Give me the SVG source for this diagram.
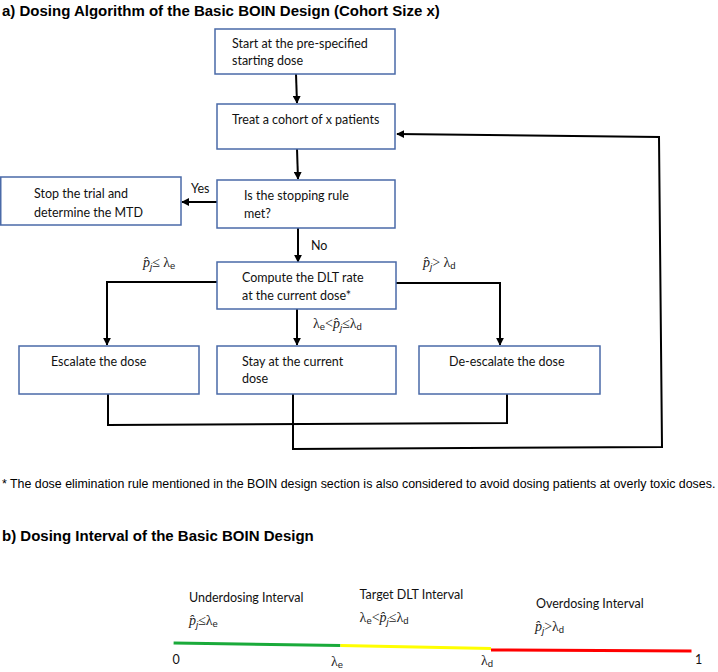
<svg xmlns="http://www.w3.org/2000/svg" width="718" height="672" viewBox="0 0 718 672">
<style>
  .title { font-family: "Liberation Sans", Arial, sans-serif; font-weight: bold; font-size: 15px; fill: #000; }
  .note { font-family: "Liberation Sans", Arial, sans-serif; font-size: 12.4px; fill: #000; }
  .box { fill: #fff; stroke: #4a6aa8; stroke-width: 1.5; }
  .t { font-family: Lato, "Liberation Sans", sans-serif; font-size: 12.5px; fill: #111; }
  .m { font-family: "Liberation Serif", "DejaVu Serif", serif; font-size: 14px; fill: #222; }
  .mi { font-style: italic; }
  .sub { font-family: "Liberation Sans", sans-serif; font-size: 9.5px; }
  .conn { fill: none; stroke: #000; stroke-width: 2; }
</style>
<defs>
  <marker id="arr" viewBox="0 0 10 10" refX="9" refY="5" markerWidth="4" markerHeight="4" orient="auto" markerUnits="strokeWidth">
    <path d="M0,0 L10,5 L0,10 z" fill="#000"/>
  </marker>
</defs>

<text class="title" x="2" y="16">a) Dosing Algorithm of the Basic BOIN Design (Cohort Size x)</text>

<g id="connectors">
  <path class="conn" d="M296,74 L297,103" marker-end="url(#arr)"/>
  <path class="conn" d="M297,149 L298,179" marker-end="url(#arr)"/>
  <path class="conn" d="M217,202 L182,202" marker-end="url(#arr)"/>
  <path class="conn" d="M298,228 L298,262" marker-end="url(#arr)"/>
  <path class="conn" d="M217,282 L107,282 L107,345" marker-end="url(#arr)"/>
  <path class="conn" d="M297,309 L297,345" marker-end="url(#arr)"/>
  <path class="conn" d="M396,283 L500,283 L500,345" marker-end="url(#arr)"/>
  <path class="conn" d="M108,394 L108,425 L507,423 L507,394"/>
  <path class="conn" d="M293,394 L293,449 L662,447 L659,137 L397,134" marker-end="url(#arr)"/>
</g>

<g id="start">
  <rect class="box" x="215" y="29" width="180" height="45"/>
  <text class="t" x="232" y="48">Start at the pre-specified</text>
  <text class="t" x="232" y="65">starting dose</text>
</g>
<g id="treat">
  <rect class="box" x="217" y="104" width="178" height="45"/>
  <text class="t" x="232" y="124">Treat a cohort of x patients</text>
</g>
<g id="stopping">
  <rect class="box" x="217" y="180" width="178" height="48"/>
  <text class="t" x="244" y="200">Is the stopping rule</text>
  <text class="t" x="244" y="218">met?</text>
</g>
<g id="stop">
  <rect class="box" x="0.75" y="177" width="180.25" height="48"/>
  <text class="t" x="34" y="198">Stop the trial and</text>
  <text class="t" x="34" y="217">determine the MTD</text>
</g>
<g id="compute">
  <rect class="box" x="217" y="262" width="179" height="47"/>
  <text class="t" x="242" y="282">Compute the DLT rate</text>
  <text class="t" x="242" y="300">at the current dose*</text>
</g>
<g id="escalate">
  <rect class="box" x="19" y="346" width="180" height="48"/>
  <text class="t" x="51" y="366">Escalate the dose</text>
</g>
<g id="stay">
  <rect class="box" x="217" y="346" width="179" height="48"/>
  <text class="t" x="242" y="366">Stay at the current</text>
  <text class="t" x="242" y="383">dose</text>
</g>
<g id="deescalate">
  <rect class="box" x="419" y="346" width="181" height="48"/>
  <text class="t" x="449" y="366">De-escalate the dose</text>
</g>

<g id="labels">
  <text class="t" x="191" y="193">Yes</text>
  <text class="t" x="311" y="250">No</text>
  <text class="m" x="143" y="267"><tspan class="mi">p̂</tspan><tspan class="mi sub" dy="3">j</tspan><tspan dy="-3">≤ λ</tspan><tspan class="sub" dy="2">e</tspan></text>
  <text class="m" x="423" y="267"><tspan class="mi">p̂</tspan><tspan class="mi sub" dy="3">j</tspan><tspan dy="-3">&gt; λ</tspan><tspan class="sub" dy="2">d</tspan></text>
  <text class="m" x="313" y="328">λ<tspan class="sub" dy="2">e</tspan><tspan dy="-2">&lt;</tspan><tspan class="mi">p̂</tspan><tspan class="mi sub" dy="3">j</tspan><tspan dy="-3">≤λ</tspan><tspan class="sub" dy="2">d</tspan></text>
</g>

<text class="note" x="2" y="488">*  The dose elimination rule mentioned in the BOIN design section is also considered to avoid dosing patients at overly toxic doses.</text>

<text class="title" x="2" y="541">b) Dosing Interval of the Basic BOIN Design</text>

<g id="interval">
  <line x1="173.6" y1="643" x2="340.4" y2="645.6" stroke="#1aaa3a" stroke-width="3"/>
  <line x1="340.4" y1="645.6" x2="491" y2="648.5" stroke="#ffff00" stroke-width="3"/>
  <line x1="491" y1="650" x2="691.5" y2="651" stroke="#ff0000" stroke-width="3"/>
  <text class="t" x="189" y="602">Underdosing Interval</text>
  <text class="m" x="189" y="625"><tspan class="mi">p̂</tspan><tspan class="mi sub" dy="3">j</tspan><tspan dy="-3">≤λ</tspan><tspan class="sub" dy="2">e</tspan></text>
  <text class="t" x="359.6" y="599">Target DLT Interval</text>
  <text class="m" x="359.6" y="622">λ<tspan class="sub" dy="2">e</tspan><tspan dy="-2">&lt;</tspan><tspan class="mi">p̂</tspan><tspan class="mi sub" dy="3">j</tspan><tspan dy="-3">≤λ</tspan><tspan class="sub" dy="2">d</tspan></text>
  <text class="t" x="536" y="608">Overdosing Interval</text>
  <text class="m" x="535" y="631"><tspan class="mi">p̂</tspan><tspan class="mi sub" dy="3">j</tspan><tspan dy="-3">&gt;λ</tspan><tspan class="sub" dy="2">d</tspan></text>
  <text class="t" x="172.5" y="664">0</text>
  <text class="m" x="331" y="666">λ<tspan class="sub" dy="2">e</tspan></text>
  <text class="m" x="481" y="665">λ<tspan class="sub" dy="2">d</tspan></text>
  <text class="t" x="695" y="664">1</text>
</g>
</svg>
